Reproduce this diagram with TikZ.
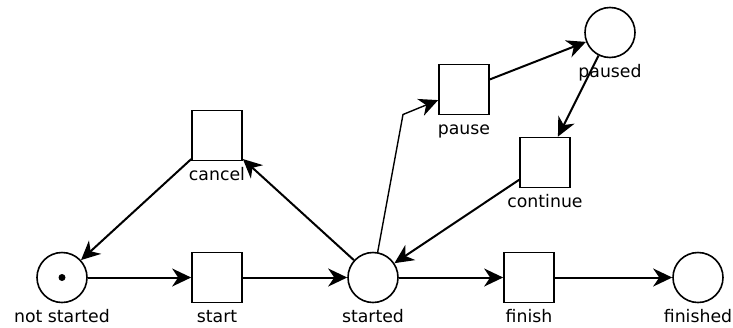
\documentclass[tikz,border=0pt]{standalone}
\usepackage{fontspec}
\setmainfont{DejaVu Sans}
\usetikzlibrary{arrows.meta}

\begin{document}
\begin{tikzpicture}[x=1pt,y=-1pt,
	place/.style={circle,draw,line width=1.6pt,minimum size=50pt,inner sep=0pt},
	transition/.style={rectangle,draw,line width=1.7pt,minimum size=50pt,inner sep=0pt},
	every label/.style={font=\fontsize{17.3}{20}\selectfont,inner sep=0pt,text height=13pt,text depth=1pt},
	label distance=6pt,
	arc/.style={-{Stealth[length=19pt,width=18pt,inset=6pt]},line width=2pt}]
			\useasboundingbox (0,1.5) rectangle (733,328.5);
			%\draw [help lines] (0,0) grid[step=50pt] (733,327);
			\node[place,label=below:not started] (notstarted) at (62,279) {};
			\fill (notstarted.center) circle (3.5pt);
			\node[transition,label=below:start] (start) at (217,279) {};
			\node[place,label=below:started] (started) at (373,279) {};
			\node[transition,label=below:cancel] (cancel) at (217,137) {};
			\node[transition,label=below:pause] (pause) at (464,91) {};
			\node[place,label=below:paused] (paused) at (610,34) {};
			\node[transition,label=below:continue] (continue) at (545,164) {};
			\node[transition,label=below:finish] (finish) at (529,279) {};
			\node[place,label=below:finished] (finished) at (698,279) {};
			\coordinate (bend) at (403,116);
			\draw[arc] (notstarted) -- (start);
			\draw[arc] (start) -- (started);
			\draw[arc] (started) -- (cancel);
			\draw[arc] (cancel) -- (notstarted);
			\draw[arc,line width=1.4pt] (started) -- (bend) -- (pause);
			\draw[arc] (pause) -- (paused);
			\draw[arc] (paused) -- (continue);
			\draw[arc] (continue) -- (started);
			\draw[arc] (started) -- (finish);
			\draw[arc] (finish) -- (finished);
		\end{tikzpicture}
\end{document}
